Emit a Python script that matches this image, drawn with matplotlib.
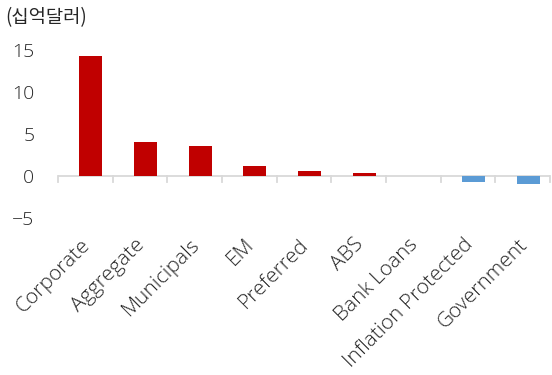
import matplotlib
matplotlib.use("Agg")
import matplotlib.pyplot as plt
from matplotlib.transforms import ScaledTranslation

plt.rcParams['font.family'] = ['Open Sans', 'Noto Sans CJK KR', 'DejaVu Sans']

categories = ["Corporate", "Aggregate", "Municipals", "EM", "Preferred", "ABS",
              "Bank Loans", "Inflation Protected", "Government"]
values = [14.3, 4.1, 3.6, 1.2, 0.6, 0.4, 0.0, -0.7, -0.9]
yticks = [-5, 0, 5, 10, 15]
unit_label = "(십억달러)"

pos_color = "#C00000"
neg_color = "#5B9BD5"
axis_color = "#D9D9D9"
text_color = "#262626"

fig = plt.figure(figsize=(5.52, 3.75), dpi=100)
ax = fig.add_axes([58/552, 1-218/375, (550-58)/552, (218-50)/375])

x = list(range(len(categories)))
colors = [pos_color if v >= 0 else neg_color for v in values]
ax.bar([i + 0.1 for i in x], values, width=0.42, color=colors, zorder=2)

ax.set_xlim(-0.5, len(categories) - 0.5)
ax.set_ylim(-5, 15)
ax.set_yticks(yticks)
ax.set_yticklabels([str(t) if t >= 0 else "\u22125" for t in yticks],
                   fontweight="light")
ax.tick_params(axis='y', length=0, pad=17, labelsize=14, labelcolor=text_color)

for s in ["top", "right", "left", "bottom"]:
    ax.spines[s].set_visible(False)
ax.axhline(0, color=axis_color, lw=1.3, zorder=1)

# category boundary ticks below zero line
for b in [i - 0.5 for i in range(len(categories) + 1)]:
    ax.plot([b, b], [0, -0.75], color=axis_color, lw=1.3, zorder=1, clip_on=False)

ax.set_xticks(x)
ax.set_xticklabels(categories, rotation=45, ha="right", va="top",
                   rotation_mode="anchor", fontsize=15, color=text_color,
                   fontweight="light")
ax.tick_params(axis='x', length=0, pad=12)
off = ScaledTranslation(-5/100, 0, fig.dpi_scale_trans)
for lab in ax.get_xticklabels():
    lab.set_transform(lab.get_transform() + off)

fig.text(5/552, 1-18/375, unit_label, fontsize=13.5, color=text_color,
         va="center", ha="left", family=['Noto Sans CJK KR', 'DejaVu Sans'],
         fontweight="light")

fig.savefig("out.png", dpi=100)
